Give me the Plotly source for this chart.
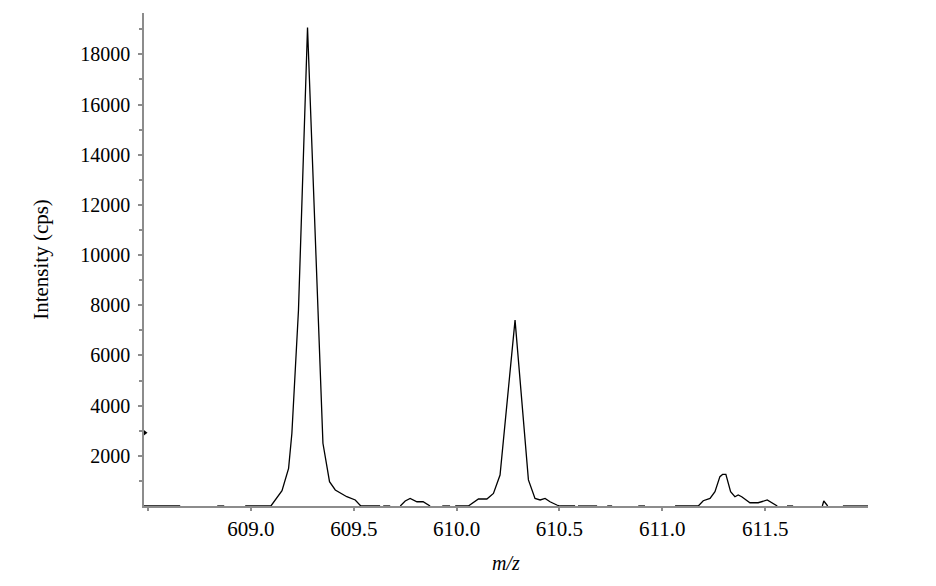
import plotly.graph_objects as go

# spectrum (m/z, intensity in cps); None = gap in trace
mz = [
    608.448, 608.656, None,
    608.836, 608.870, None,
    608.972, 609.097, 609.151, 609.183, 609.199, 609.215, 609.231, 609.275,
    609.324, 609.350, 609.382, 609.410, 609.466, 609.507, 609.534, 609.628, None,
    609.643, 609.677, None,
    609.726, 609.750, 609.774, 609.807, 609.837, 609.871, None,
    609.930, 609.968, None,
    609.993, 610.057, 610.106, 610.147, 610.179, 610.195, 610.211, 610.284,
    610.349, 610.381, 610.406, 610.430, 610.454, 610.487, 610.503, 610.576, None,
    610.590, 610.683, None,
    610.732, 610.756, None,
    610.883, 610.916, None,
    611.062, 611.175, 611.199, 611.232, 611.256, 611.280, 611.293, 611.309,
    611.332, 611.353, 611.369, 611.386, 611.426, 611.466, 611.510, 611.559, None,
    611.606, 611.636, None,
    611.778, 611.785, 611.804, None,
    611.878, 612.0,
]
intensity = [
    0, 0, None,
    0, 0, None,
    0, 0, 610, 1500, 2900, 5300, 7800, 19070,
    8200, 2500, 970, 640, 370, 240, 0, 0, None,
    0, 0, None,
    0, 200, 300, 170, 170, 0, None,
    0, 0, None,
    0, 0, 280, 280, 500, 840, 1235, 7410,
    1040, 300, 240, 300, 170, 40, 0, 0, None,
    0, 0, None,
    0, 0, None,
    0, 0, None,
    0, 0, 210, 300, 570, 1170, 1260, 1260,
    570, 370, 440, 370, 130, 130, 240, 0, None,
    0, 0, None,
    0, 200, 0, None,
    0, 0,
]

x_ticks = [608.5, 609.0, 609.5, 610.0, 610.5, 611.0, 611.5]
x_labels = ["", "609.0", "609.5", "610.0", "610.5", "611.0", "611.5"]
y_ticks = [2000, 4000, 6000, 8000, 10000, 12000, 14000, 16000, 18000]
y_minor = [1000, 3000, 5000, 7000, 9000, 11000, 13000, 15000, 17000, 19000]

# marker on the intensity axis
marker_mz = [608.48]
marker_int = [2920]

FONT = "Liberation Serif"
AXIS_GREY = "#8c8c8c"

fig = go.Figure()

fig.add_trace(go.Scatter(
    x=mz, y=intensity,
    mode="lines",
    line=dict(color="black", width=1.3),
    connectgaps=False,
    hoverinfo="skip",
))

fig.add_trace(go.Scatter(
    x=marker_mz, y=marker_int,
    mode="markers",
    marker=dict(symbol="triangle-right", size=7, color="black"),
    cliponaxis=False,
    hoverinfo="skip",
))

# page body has an 8px margin, so the figure is a bit smaller than the window
fig.update_layout(
    width=928, height=578,
    margin=dict(l=136, r=68, t=5, b=80),
    paper_bgcolor="white",
    plot_bgcolor="white",
    showlegend=False,
    font=dict(family=FONT, size=20, color="black"),
)

fig.update_xaxes(
    range=[608.48, 612.0],
    showgrid=False, zeroline=False,
    showline=True, linecolor=AXIS_GREY, linewidth=1.5,
    ticks="outside", ticklen=3, tickcolor=AXIS_GREY, tickwidth=1.5,
    tickvals=x_ticks, ticktext=x_labels,
    tickfont=dict(family=FONT, size=21),
    title=dict(text="<i>m/z</i>", font=dict(family=FONT, size=20), standoff=16),
)

fig.update_yaxes(
    range=[0, 19650],
    showgrid=False, zeroline=False,
    showline=True, linecolor=AXIS_GREY, linewidth=1.5,
    ticks="outside", ticklen=4, tickcolor=AXIS_GREY, tickwidth=1.5,
    tickvals=y_ticks, tickformat="d",
    ticklabelstandoff=4,
    minor=dict(tickvals=y_minor, ticks="outside", ticklen=3,
               tickcolor=AXIS_GREY, tickwidth=1.5),
    tickfont=dict(family=FONT, size=20),
    title=dict(text="Intensity (cps)", font=dict(family=FONT, size=21), standoff=26),
)

fig.write_html("out.html")
